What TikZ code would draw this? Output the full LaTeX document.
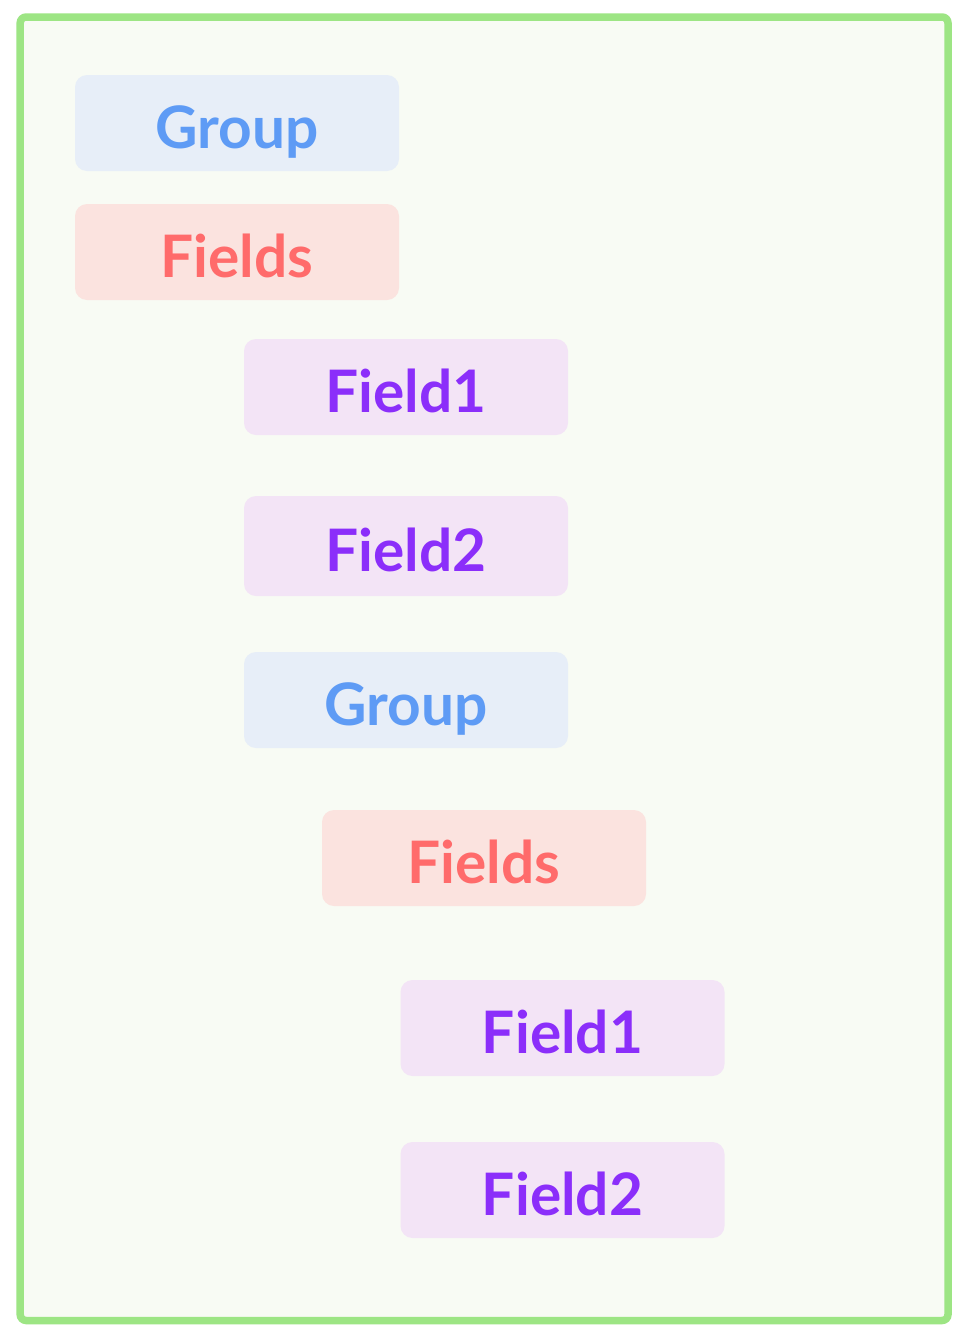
\documentclass[tikz,border=0pt]{standalone}
\usepackage{fontspec}
\setmainfont{Lato}
\definecolor{bgc}{HTML}{F8FBF4}
\definecolor{framec}{HTML}{9DE584}
\definecolor{groupfill}{HTML}{E7EEF8}
\definecolor{grouptext}{HTML}{5E9BF5}
\definecolor{fieldsfill}{HTML}{FBE3DF}
\definecolor{fieldstext}{HTML}{FF6B6B}
\definecolor{fieldfill}{HTML}{F3E4F6}
\definecolor{fieldtext}{HTML}{8B2EFA}
\begin{document}
\begin{tikzpicture}[x=1pt,y=-1pt,
  itembox/.style={rectangle, rounded corners=12pt, minimum width=324pt, minimum height=96pt,
    inner sep=0pt, text height=50pt, text depth=0pt,
    font=\fontsize{58.6}{60}\selectfont\bfseries},
  groupbox/.style={itembox, fill=groupfill, text=grouptext},
  fieldsbox/.style={itembox, fill=fieldsfill, text=fieldstext},
  fieldbox/.style={itembox, fill=fieldfill, text=fieldtext}]
\useasboundingbox (0,0) rectangle (961,1328);
\fill[white] (0,0) rectangle (961,1328);
\draw[framec, fill=bgc, line width=7.5pt, rounded corners=6pt] (20.2,17) rectangle (948,1320.5);
\node[groupbox]  (g1)  at (237,123) {Group};
\node[fieldsbox] (fs1) at (237,252) {Fields};
\node[fieldbox]  (f1)  at (406,387) {Field1};
\node[fieldbox, minimum height=100pt] (f2) at (406,546) {Field2};
\node[groupbox]  (g2)  at (406,700) {Group};
\node[fieldsbox] (fs2) at (484,858) {Fields};
\node[fieldbox]  (f3)  at (562.5,1028) {Field1};
\node[fieldbox]  (f4)  at (562.5,1190) {Field2};
\end{tikzpicture}
\end{document}
